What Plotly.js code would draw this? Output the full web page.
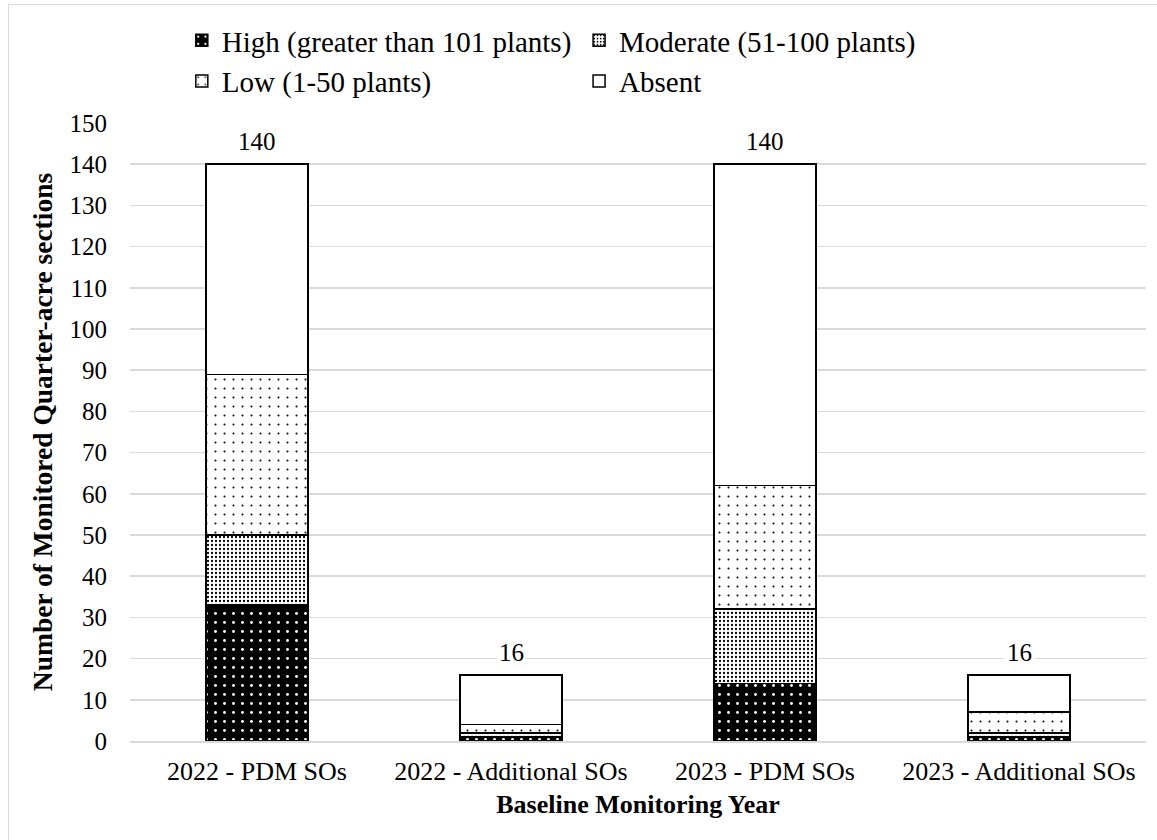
<!DOCTYPE html>
<html>
<head>
<meta charset="utf-8">
<script src="https://cdn.plot.ly/plotly-3.0.1.min.js"></script>
<style>
  html, body { margin: 0; padding: 0; background: #ffffff; }
  #frame { position: absolute; left: 8px; top: 4px; width: 1160px; height: 850px; border: 1px solid #d9d9d9; box-sizing: border-box; pointer-events: none; }
  #chart { position: absolute; left: 0; top: 0; width: 1157px; height: 840px; }
</style>
</head>
<body>
<div id="frame"></div>
<div id="chart"></div>
<script>
const categories = ["2022 - PDM SOs", "2022 - Additional SOs", "2023 - PDM SOs", "2023 - Additional SOs"];
const seriesNames = ["High (greater than 101 plants)", "Moderate (51-100 plants)", "Low (1-50 plants)", "Absent"];
const high     = [33, 1, 14, 1];
const moderate = [17, 1, 18, 1];
const low      = [39, 2, 30, 5];
const absent   = [51, 12, 78, 9];
const yTicks   = [0, 10, 20, 30, 40, 50, 60, 70, 80, 90, 100, 110, 120, 130, 140, 150];

const totals = categories.map((c, i) => high[i] + moderate[i] + low[i] + absent[i]);

const FONT = "Times New Roman, Liberation Serif, serif";
const line = { color: '#000000', width: 1.5 };

const traces = [
  { name: seriesNames[0], y: high, legend: 'legend',
    marker: { color: '#000000', line: line, pattern: { shape: '.', bgcolor: '#000000', fgcolor: '#ffffff', size: 9, solidity: 0.08, fillmode: 'replace' } } },
  { name: seriesNames[1], y: moderate, legend: 'legend2',
    marker: { color: '#ffffff', line: line, pattern: { shape: '.', bgcolor: '#ffffff', fgcolor: '#000000', size: 4, solidity: 0.25, fillmode: 'replace' } } },
  { name: seriesNames[2], y: low, legend: 'legend',
    marker: { color: '#ffffff', line: line, pattern: { shape: '.', bgcolor: '#ffffff', fgcolor: '#000000', size: 9, solidity: 0.04, fillmode: 'replace' } } },
  { name: seriesNames[3], y: absent, legend: 'legend2',
    marker: { color: '#ffffff', line: line } }
].map(t => Object.assign({ type: 'bar', x: categories, hoverinfo: 'skip' }, t));

const annotations = categories.map((c, i) => ({
  x: c, y: totals[i], xref: 'x', yref: 'y', text: String(totals[i]),
  showarrow: false, yanchor: 'bottom', yshift: 6,
  bgcolor: '#ffffff', borderpad: 2,
  font: { family: FONT, size: 25, color: '#000000', weight: 'normal' }
}));

const legendBase = {
  orientation: 'v', xanchor: 'left', yanchor: 'top',
  bgcolor: 'rgba(0,0,0,0)', font: { family: FONT, size: 29, color: '#000000', weight: 'normal' },
  itemwidth: 30, traceorder: 'normal', tracegroupgap: 0
};

const layout = {
  width: 1157, height: 840,
  paper_bgcolor: 'rgba(0,0,0,0)', plot_bgcolor: 'rgba(0,0,0,0)',
  margin: { l: 130, r: 11, t: 123, b: 99 },
  barmode: 'stack', bargap: 0.6,
  font: { family: FONT, color: '#000000' },
  showlegend: true,
  legend: Object.assign({}, legendBase, { x: 0.051, y: 1.175 }),
  legend2: Object.assign({}, legendBase, { x: 0.442, y: 1.175 }),
  xaxis: {
    type: 'category', showgrid: false, showline: true, linecolor: '#d9d9d9', linewidth: 1.5,
    ticks: '', ticklabelstandoff: 6, tickfont: { family: FONT, size: 26, color: '#000000', weight: 'normal' },
    title: { text: '<b>Baseline Monitoring Year</b>', font: { family: FONT, size: 26, color: '#000000' }, standoff: 10 },
    automargin: false, fixedrange: true
  },
  yaxis: {
    range: [0, 150], tickvals: yTicks, ticktext: yTicks.map(String),
    showgrid: true, gridcolor: '#d9d9d9', gridwidth: 1.5, zeroline: false, showline: false,
    ticks: '', ticklabelstandoff: 22, tickfont: { family: FONT, size: 25, color: '#000000', weight: 'normal' },
    title: { text: '<b>Number of Monitored Quarter-acre sections</b>', font: { family: FONT, size: 27.5, color: '#000000' }, standoff: 8 },
    automargin: false, fixedrange: true
  },
  annotations: annotations
};

Plotly.newPlot('chart', traces, layout, { displayModeBar: false, staticPlot: true });
</script>
</body>
</html>
